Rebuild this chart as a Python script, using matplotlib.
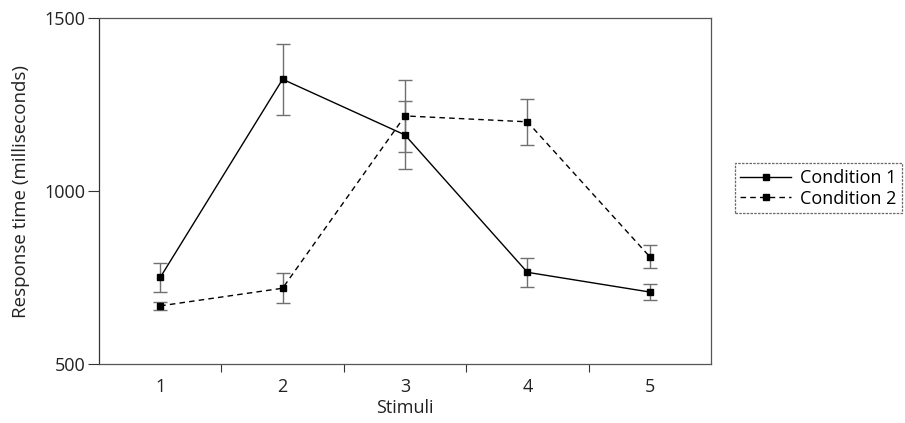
import matplotlib
matplotlib.use("Agg")
import matplotlib.pyplot as plt
from matplotlib.ticker import FixedLocator, NullFormatter
from matplotlib.lines import Line2D

plt.rcParams['font.family'] = ['Open Sans', 'DejaVu Sans']

stimuli = [1, 2, 3, 4, 5]
cond1 = [750, 1323, 1162, 765, 708]
cond1_err = [43, 102, 97, 42, 24]
cond2 = [668, 719, 1217, 1200, 810]
cond2_err = [12, 44, 103, 66, 33]
y_ticks = [500, 1000, 1500]
labels = ['Condition 1', 'Condition 2']

fig = plt.figure(figsize=(9.05, 4.23), dpi=100)
ax = fig.add_axes([0.1094, 0.1395, 0.6762, 0.8179])

ax.errorbar(stimuli, cond1, yerr=cond1_err, color='black', lw=1.0, ls='-',
            marker='s', ms=5, mfc='black', mec='black',
            ecolor='#707070', elinewidth=1.0, capsize=5, capthick=1.0, zorder=3)
ax.errorbar(stimuli, cond2, yerr=cond2_err, color='black', lw=1.0, ls=(0, (4, 3)),
            marker='s', ms=5, mfc='black', mec='black',
            ecolor='#707070', elinewidth=1.0, capsize=5, capthick=1.0, zorder=3)

ax.set_xlim(0.5, 5.5)
ax.set_ylim(500, 1500)
ax.set_yticks(y_ticks)
ax.set_yticklabels([str(v) for v in y_ticks], fontsize=13, color='#222222')

ax.xaxis.set_major_locator(FixedLocator([1.5, 2.5, 3.5, 4.5]))
ax.xaxis.set_major_formatter(NullFormatter())
ax.xaxis.set_minor_locator(FixedLocator(stimuli))
ax.set_xticklabels([str(s) for s in stimuli], minor=True, fontsize=13, color='#222222')
ax.tick_params(axis='x', which='minor', length=0, pad=10)
ax.tick_params(axis='x', which='major', length=6, direction='out', color='#333333')
ax.tick_params(axis='y', which='major', length=8, direction='out', color='#333333', pad=2)

ax.set_xlabel('Stimuli', fontsize=13, color='#222222', labelpad=2)
ax.set_ylabel('Response time (milliseconds)', fontsize=13.5, color='#222222', labelpad=10)

ax.spines['top'].set_color('#555555')
ax.spines['top'].set_linewidth(1.2)
ax.spines['left'].set_linestyle((0, (6, 1, 1, 1)))
ax.spines['left'].set_color('#333333')
ax.spines['bottom'].set_linestyle((0, (2, 1)))
ax.spines['bottom'].set_color('#555555')
ax.spines['right'].set_linestyle((0, (3, 1)))
ax.spines['right'].set_color('#555555')
for s in ax.spines.values():
    s.set_linewidth(0.9)

handles = [Line2D([], [], color='black', lw=1.0, ls='-', marker='s', ms=4),
           Line2D([], [], color='black', lw=1.0, ls=(0, (4, 3)), marker='s', ms=4)]
leg = fig.legend(handles, labels, loc='center left', bbox_to_anchor=(0.812, 0.555),
                 fontsize=13, frameon=True, fancybox=False, handlelength=2.8,
                 borderpad=0.3, labelspacing=0.15, handletextpad=0.5, borderaxespad=0)
leg.get_frame().set_edgecolor('#444444')
leg.get_frame().set_linestyle((0, (2, 1)))
leg.get_frame().set_linewidth(0.9)

fig.savefig('out.png', dpi=100)
